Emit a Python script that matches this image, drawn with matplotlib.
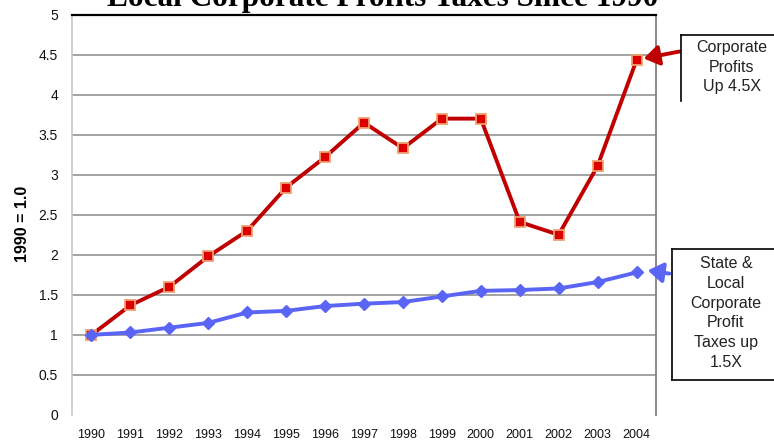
import matplotlib
matplotlib.use("Agg")
import matplotlib.pyplot as plt
from matplotlib.lines import Line2D
from matplotlib.patches import FancyArrowPatch

years = ["1990", "1991", "1992", "1993", "1994", "1995", "1996", "1997",
         "1998", "1999", "2000", "2001", "2002", "2003", "2004"]
corporate_profits = [1.00, 1.37, 1.60, 1.98, 2.30, 2.84, 3.22, 3.65,
                     3.33, 3.70, 3.70, 2.41, 2.25, 3.11, 4.43]
state_local_taxes = [1.00, 1.03, 1.09, 1.15, 1.28, 1.30, 1.36, 1.39,
                     1.41, 1.48, 1.55, 1.56, 1.58, 1.66, 1.78]
y_ticks = [0, 0.5, 1, 1.5, 2, 2.5, 3, 3.5, 4, 4.5, 5]
y_tick_labels = ["0", "0.5", "1", "1.5", "2", "2.5", "3", "3.5", "4", "4.5", "5"]

W, H = 774, 443
fig = plt.figure(figsize=(W / 100, H / 100), dpi=100)
fig.patch.set_facecolor("white")

L, R, T, B = 72, 656, 14.5, 415
ax = fig.add_axes([L / W, 1 - B / H, (R - L) / W, (B - T) / H])
x = list(range(len(years)))

# grid lines
for v in y_ticks[1:-1]:
    ax.axhline(v, color="#8a8a8a", lw=1.1, zorder=1)

ax.plot(x, corporate_profits, color="#c00000", lw=2.8, zorder=3,
        marker="s", markersize=7.5, markerfacecolor="#dd0000",
        markeredgecolor="#f0a070", markeredgewidth=1.3)
ax.plot(x, state_local_taxes, color="#5a64f5", lw=2.8, zorder=3,
        marker="D", markersize=6.5, markerfacecolor="#5a64f5",
        markeredgecolor="#5a64f5")

ax.set_xlim(-0.5, len(years) - 0.5)
ax.set_ylim(0, 5)
ax.set_yticks(y_ticks)
ax.set_yticklabels(y_tick_labels)
ax.set_xticks(x)
ax.set_xticklabels(years)
ax.tick_params(axis="both", length=0, labelcolor="#111111",
               labelfontfamily="Liberation Sans")
ax.tick_params(axis="y", pad=10, labelsize=10)
ax.tick_params(axis="x", pad=10, labelsize=9)

ax.spines["bottom"].set_visible(False)
ax.spines["left"].set_color("#c8c8c8")
ax.spines["left"].set_linewidth(1.2)
ax.spines["right"].set_color("#808080")
ax.spines["right"].set_linewidth(1.3)
ax.spines["top"].set_color("#000000")
ax.spines["top"].set_linewidth(1.6)

ax.set_ylabel("1990 = 1.0", fontsize=11.5, fontweight="bold",
              family="Liberation Sans")
ax.yaxis.set_label_coords(-42 / (R - L), (B - 224) / (B - T))

# title (cut off at the top of the image)
fig.text(383 / W, 1 - 6 / H, "Local Corporate Profits Taxes Since 1990",
         ha="center", va="baseline", fontsize=22.5, fontweight="bold",
         family="Liberation Serif")

def fx(px):
    return px / W

def fy(py):
    return 1 - py / H

# annotation box 1
fig.add_artist(Line2D([fx(681), fx(780)], [fy(35), fy(35)], color="black", lw=1.2))
fig.add_artist(Line2D([fx(681), fx(681)], [fy(35), fy(101)], color="black", lw=1.2))
fig.text(fx(732), fy(67), "Corporate\nProfits\nUp 4.5X", ha="center", va="center",
         fontsize=11.5, family="Liberation Sans", color="#222222", linespacing=1.38)

# annotation box 2
fig.add_artist(Line2D([fx(672), fx(780)], [fy(249), fy(249)], color="black", lw=1.2))
fig.add_artist(Line2D([fx(672), fx(672)], [fy(249), fy(380)], color="black", lw=1.2))
fig.add_artist(Line2D([fx(672), fx(780)], [fy(380), fy(380)], color="black", lw=1.2))
fig.text(fx(726), fy(313), "State &\nLocal\nCorporate\nProfit\nTaxes up\n1.5X",
         ha="center", va="center", fontsize=11.5, family="Liberation Sans",
         color="#222222", linespacing=1.4)

# arrows
fig.add_artist(FancyArrowPatch((fx(682), fy(51)), (fx(641), fy(59)),
                               transform=fig.transFigure,
                               arrowstyle="-|>,head_length=6,head_width=4",
                               color="#c00000", lw=2.8, mutation_scale=1.5))
fig.add_artist(FancyArrowPatch((fx(672), fy(274)), (fx(645), fy(270)),
                               transform=fig.transFigure,
                               arrowstyle="-|>,head_length=6,head_width=4",
                               color="#5a64f5", lw=2.8, mutation_scale=1.5))

fig.savefig("out.png", dpi=100, facecolor="white")
